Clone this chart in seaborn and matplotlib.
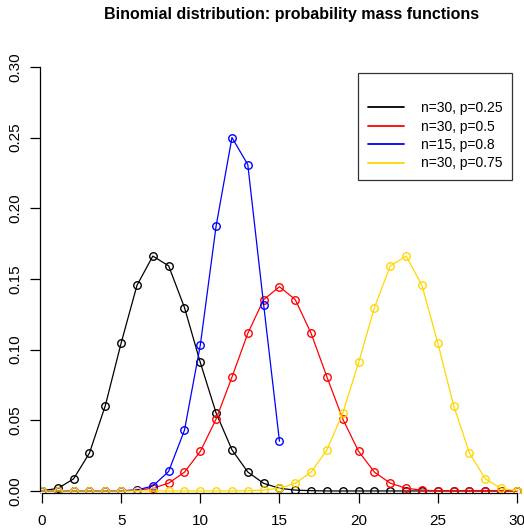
import matplotlib
matplotlib.use("Agg")
import matplotlib.pyplot as plt
import seaborn as sns
import pandas as pd

sns.set_style("white")
plt.rcParams['font.family'] = ['Liberation Sans', 'DejaVu Sans']
plt.rcParams['text.color'] = 'black'
plt.rcParams['xtick.color'] = 'black'
plt.rcParams['ytick.color'] = 'black'

k30 = list(range(31))
k15 = list(range(16))

pmf_30_025 = [0.0002, 0.0018, 0.0086, 0.0269, 0.0604, 0.1047, 0.1455, 0.1662,
              0.1593, 0.1298, 0.0909, 0.0551, 0.0291, 0.0134, 0.0054, 0.0019,
              0.0006, 0.0002, 0.0000, 0.0000, 0.0000, 0.0000, 0.0000, 0.0000,
              0.0000, 0.0000, 0.0000, 0.0000, 0.0000, 0.0000, 0.0000]
pmf_30_05 = [0.0000, 0.0000, 0.0000, 0.0000, 0.0000, 0.0001, 0.0006, 0.0019,
             0.0055, 0.0133, 0.0280, 0.0509, 0.0806, 0.1115, 0.1354, 0.1445,
             0.1354, 0.1115, 0.0806, 0.0509, 0.0280, 0.0133, 0.0055, 0.0019,
             0.0006, 0.0001, 0.0000, 0.0000, 0.0000, 0.0000, 0.0000]
pmf_15_08 = [0.0000, 0.0000, 0.0000, 0.0000, 0.0000, 0.0001, 0.0007, 0.0035,
             0.0138, 0.0430, 0.1032, 0.1876, 0.2501, 0.2309, 0.1319, 0.0352]
pmf_30_075 = [0.0000, 0.0000, 0.0000, 0.0000, 0.0000, 0.0000, 0.0000, 0.0000,
              0.0000, 0.0000, 0.0000, 0.0000, 0.0000, 0.0002, 0.0006, 0.0019,
              0.0054, 0.0134, 0.0291, 0.0551, 0.0909, 0.1298, 0.1593, 0.1662,
              0.1455, 0.1047, 0.0604, 0.0269, 0.0086, 0.0018, 0.0002]

labels = ["n=30, p=0.25", "n=30, p=0.5", "n=15, p=0.8", "n=30, p=0.75"]
colors = ["black", "red", "blue", "gold"]
xs = [k30, k30, k15, k30]
ys = [pmf_30_025, pmf_30_05, pmf_15_08, pmf_30_075]

x_ticks = [0, 5, 10, 15, 20, 25, 30]
y_ticks = [0.00, 0.05, 0.10, 0.15, 0.20, 0.25, 0.30]
y_ticklabels = ["0.00", "0.05", "0.10", "0.15", "0.20", "0.25", "0.30"]

fig = plt.figure(figsize=(5.24, 5.29), dpi=100)
ax = fig.add_axes([0.0771, 0.0679, 0.9185, 0.8108])

for x, y, lab, c in zip(xs, ys, labels, colors):
    df = pd.DataFrame({"k": x, "p": y})
    sns.lineplot(data=df, x="k", y="p", ax=ax, color=c, label=lab,
                 linewidth=0.9, marker="o", markersize=5.4,
                 markerfacecolor="none", markeredgecolor=c, markeredgewidth=1.0)

ax.set_xlim(-0.1, 30.3)
ax.set_ylim(-0.0015, 0.302)
ax.set_xlabel("")
ax.set_ylabel("")
ax.set_xticks(x_ticks)
ax.set_xticklabels([str(t) for t in x_ticks], fontsize=11, color="black")
ax.set_yticks(y_ticks)
ax.set_yticklabels(y_ticklabels, fontsize=11, rotation=90, va="center", color="black")
for s in ["top", "right"]:
    ax.spines[s].set_visible(False)
ax.spines["left"].set_bounds(0, 0.30)
ax.spines["bottom"].set_bounds(0, 30)
for s in ["left", "bottom"]:
    ax.spines[s].set_color("black")
    ax.spines[s].set_linewidth(0.9)
ax.tick_params(axis="both", direction="out", length=7, width=0.9, color="black",
               pad=8, bottom=True, left=True)
ax.tick_params(axis="y", pad=6)

leg = ax.legend(loc="upper right", frameon=True, fontsize=10,
                title=" ", title_fontsize=10.5, handlelength=2.6, handletextpad=1.2,
                borderpad=0.7, labelspacing=0.32, fancybox=False, borderaxespad=0)
leg.get_frame().set_edgecolor("black")
leg.get_frame().set_linewidth(0.9)
for t in leg.get_texts():
    t.set_color("black")
for h in leg.legend_handles:
    h.set_marker("")
    h.set_linewidth(1.3)
leg.set_bbox_to_anchor((512 / 524, (529 - 73) / 529), transform=fig.transFigure)

fig.text(292 / 524, (529 - 15) / 529, "Binomial distribution: probability mass functions",
         fontsize=11.5, fontweight="bold", ha="center", va="center", color="black")

fig.savefig("out.png", dpi=100)
